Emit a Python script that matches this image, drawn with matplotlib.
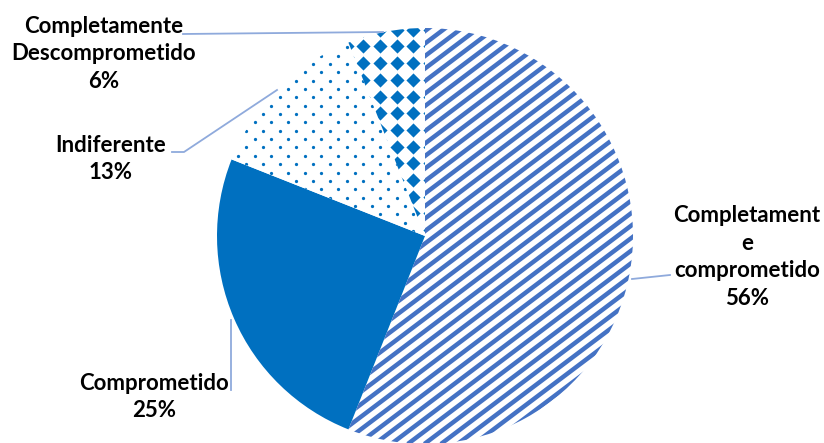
import matplotlib
matplotlib.use("Agg")
import matplotlib.pyplot as plt
from matplotlib.collections import LineCollection
import numpy as np

labels = ["Completament\ne\ncomprometido", "Comprometido", "Indiferente",
          "Completamente\nDescomprometido"]
values = [56, 25, 13, 6]
pct_text = ["56%", "25%", "13%", "6%"]

W, H = 824, 443
R = 208.0          # pie radius in pixels
CX, CY = 425, 236  # pie centre in pixels (from top-left)


def px(x, y):
    # pixel position -> data position
    return (x - CX) / R, (CY - y) / R


blue = "#0070C0"
stripe = "#4472C4"
leader = "#8FAADC"

fig = plt.figure(figsize=(W / 100, H / 100), dpi=100)
ax = fig.add_axes([0, 0, 1, 1])
wedges, _ = ax.pie(values, startangle=90, counterclock=False, radius=1,
                   colors=["white", blue, "white", "white"],
                   wedgeprops=dict(linewidth=0))
ax.set_xlim(-CX / R, (W - CX) / R)
ax.set_ylim((CY - H) / R, CY / R)
ax.set_aspect("equal")
ax.axis("off")

# wide upward diagonal stripes
t = np.tan(np.deg2rad(37))
segs = []
for c in np.arange(-2.5, 2.5, 12.5 / R):
    segs.append([(-1.2, c - 1.2 * t), (1.2, c + 1.2 * t)])
lc = LineCollection(segs, colors=stripe, linewidths=3.2)
ax.add_collection(lc)
lc.set_clip_path(wedges[0])

# dotted pattern
dx, dy = 16.7 / R, 8.35 / R
pts = []
for j, yy in enumerate(np.arange(-1.1, 1.1, dy)):
    off = dx / 2 if j % 2 else 0
    for xx in np.arange(-1.1, 1.1, dx):
        pts.append((xx + off, yy))
pts = np.array(pts)
sc = ax.scatter(pts[:, 0], pts[:, 1], s=5.5, color=blue, linewidths=0)
sc.set_clip_path(wedges[2])

# diamond pattern
d = 16.7 / R
g = np.arange(-1.1, 1.1, d)
gx, gy = np.meshgrid(g, g)
sd = ax.scatter(gx.ravel(), gy.ravel() + 0.004, s=52, marker="D", color=blue,
                linewidths=0)
sd.set_clip_path(wedges[3])

# leader lines
lines = [
    [(632, 279), (670, 275)],
    [(231, 320), (231, 390)],
    [(277, 90), (184, 152), (172, 152)],
    [(383, 32), (183, 34)],
]
for ln in lines:
    xs, ys = zip(*[px(a, b) for a, b in ln])
    ax.plot(xs, ys, color=leader, lw=1.3)

# labels
pos = [(747, 257), (154, 397), (111, 159), (104, 54)]
fp = dict(family=["Lato", "DejaVu Sans"], fontweight="bold", fontsize=16,
          ha="center", va="center", linespacing=1.4)
for lab, p, (x, y) in zip(labels, pct_text, pos):
    ax.text(*px(x, y), lab + "\n" + p, **fp)

fig.savefig("out.png", dpi=100)
